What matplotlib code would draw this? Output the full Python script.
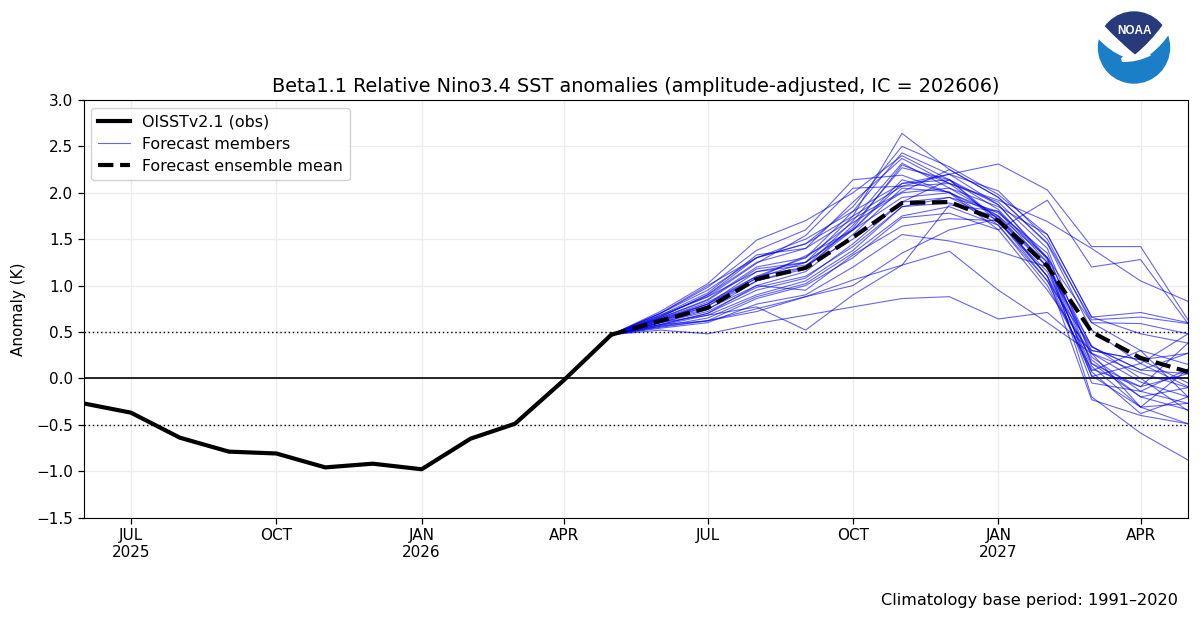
import matplotlib
matplotlib.use("Agg")
import matplotlib.pyplot as plt
import pandas as pd
from matplotlib.patches import Circle, PathPatch
from matplotlib.path import Path

# ---------- data ----------
obs_months = pd.date_range("2025-06-01", "2026-05-01", freq="MS")
obs_values = [-0.27, -0.37, -0.64, -0.79, -0.81, -0.96, -0.92, -0.98, -0.65, -0.49, -0.02, 0.47]

fc_months = pd.date_range("2026-05-01", "2027-05-01", freq="MS")
fc_start = 0.47
ens_mean = [0.47, 0.62, 0.76, 1.07, 1.19, 1.52, 1.89, 1.90, 1.70, 1.21, 0.50, 0.22, 0.07]

# monthly values Jun 2026 .. May 2027
members = [
    [.68, .88, 1.15, 1.25, 1.75, 2.64, 2.25, 1.95, 1.45, .52, .16, -.09],
    [.70, .95, 1.30, 1.45, 1.85, 2.50, 2.28, 1.98, 1.55, .66, .48, .38],
    [.65, .85, 1.20, 1.30, 1.80, 2.43, 2.20, 1.87, 1.30, .34, .09, .05],
    [.72, 1.02, 1.49, 1.70, 2.00, 2.40, 2.14, 1.82, 1.25, .27, -.04, -.20],
    [.66, .90, 1.25, 1.40, 1.90, 2.37, 2.10, 1.90, 1.40, .23, -.14, -.27],
    [.64, .82, 1.10, 1.20, 1.70, 2.32, 2.05, 1.75, 1.20, .30, .20, .27],
    [.60, .78, 1.05, 1.18, 1.65, 2.27, 2.14, 1.71, 1.10, .20, -.20, -.34],
    [.70, .98, 1.38, 1.60, 2.14, 2.19, 2.00, 1.78, 1.35, .16, -.09, .05],
    [.63, .80, 1.08, 1.25, 1.60, 2.10, 2.14, 1.68, 1.15, .13, -.31, -.49],
    [.67, .88, 1.24, 1.54, 2.05, 2.07, 2.20, 2.02, 1.50, .60, .30, .15],
    [.62, .75, 1.00, 1.15, 1.55, 2.05, 2.01, 1.65, 1.05, .07, -.38, -.20],
    [.68, .92, 1.33, 1.40, 1.72, 2.01, 2.25, 1.95, 1.46, .63, .66, .59],
    [.58, .70, .95, 1.08, 1.45, 1.90, 2.14, 1.87, 1.28, .02, .16, .48],
    [.60, .72, .98, 1.10, 1.42, 1.85, 1.95, 1.80, 1.30, -.20, -.59, -.88],
    [.57, .68, .90, 1.05, 1.38, 1.85, 1.89, 1.74, 1.10, -.23, -.40, -.49],
    [.56, .65, .88, 1.02, 1.35, 1.75, 1.85, 1.65, 1.00, .10, -.09, .38],
    [.55, .62, .86, 1.00, 1.30, 1.73, 1.78, 1.60, .95, .27, -.31, -.27],
    [.58, .70, 1.00, .95, 1.33, 1.64, 1.72, 1.70, 1.05, .34, .09, .27],
    [.54, .60, .80, .90, 1.20, 1.55, 1.48, 1.37, 1.20, .35, .00, -.35],
    [.56, .62, .75, .88, 1.06, 1.22, 1.37, .95, .60, .27, .06, -.10],
    [.52, .48, .59, .68, .77, .86, .88, .64, .71, .30, .20, -.05],
    [.60, .68, .77, .52, .90, 1.22, 1.87, 1.80, 1.20, -.05, -.14, .10],
    [.58, .62, .72, .88, 1.00, 1.35, 1.60, 1.72, 1.25, .16, -.20, -.10],
    [.70, 1.00, 1.30, 1.50, 1.80, 2.10, 2.20, 2.31, 2.03, 1.42, 1.42, .63],
    [.66, .90, 1.30, 1.45, 1.75, 2.07, 2.10, 1.92, 1.69, 1.40, 1.05, .83],
    [.62, .78, 1.08, 1.32, 1.60, 1.95, 2.00, 1.60, 1.92, 1.20, 1.28, .59],
    [.64, .80, 1.10, 1.30, 1.68, 2.00, 2.05, 1.85, 1.55, .66, .71, .60],
    [.60, .74, 1.05, 1.20, 1.60, 2.14, 2.00, 1.75, 1.30, .60, .59, .48],
    [.62, .80, 1.15, 1.22, 1.50, 1.90, 1.95, 1.70, 1.10, .03, -.31, .10],
    [.65, .84, 1.18, 1.25, 1.62, 2.30, 2.10, 1.72, 1.20, .08, .30, -.20],
]

tick_dates = pd.to_datetime(["2025-07-01", "2025-10-01", "2026-01-01", "2026-04-01",
                             "2026-07-01", "2026-10-01", "2027-01-01", "2027-04-01"])
tick_labels = ["JUL\n2025", "OCT", "JAN\n2026", "APR", "JUL", "OCT", "JAN\n2027", "APR"]
y_ticks = [-1.5, -1.0, -0.5, 0.0, 0.5, 1.0, 1.5, 2.0, 2.5, 3.0]

# ---------- figure ----------
W, H = 1200, 620
fig = plt.figure(figsize=(W / 100, H / 100), dpi=100)
ax = fig.add_axes([83.5 / W, 1 - 517.5 / H, (1188 - 83.5) / W, 417.5 / H])

ax.grid(True, color="#ececec", lw=1.0, zorder=0)
ax.set_axisbelow(True)
ax.axhline(0, color="black", lw=1.2, zorder=2)
ax.axhline(0.5, color="black", lw=1.0, ls=(0, (1, 2)), zorder=2)
ax.axhline(-0.5, color="black", lw=1.0, ls=(0, (1, 2)), zorder=2)

for i, m in enumerate(members):
    ax.plot(fc_months, [fc_start] + m, color="#0000e6", lw=0.8, alpha=0.6, zorder=3,
            label="Forecast members" if i == 0 else None)
ax.plot(obs_months, obs_values, color="black", lw=3, zorder=5, label="OISSTv2.1 (obs)")
ax.plot(fc_months, ens_mean, color="black", lw=3, ls="--", zorder=6,
        label="Forecast ensemble mean")

ax.set_xlim(pd.Timestamp("2025-06-01"), pd.Timestamp("2027-05-01"))
ax.set_ylim(-1.5, 3.0)
ax.set_xticks(tick_dates)
ax.set_xticklabels(tick_labels)
ax.set_yticks(y_ticks)
ax.tick_params(labelsize=11, length=4, width=0.9)
ax.set_ylabel("Anomaly (K)", fontsize=11, labelpad=7)
ax.set_title("Beta1.1 Relative Nino3.4 SST anomalies (amplitude-adjusted, IC = 202606)",
             fontsize=13.85, pad=6)

handles, labels = ax.get_legend_handles_labels()
order = [labels.index(s) for s in ["OISSTv2.1 (obs)", "Forecast members", "Forecast ensemble mean"]]
ax.legend([handles[i] for i in order], [labels[i] for i in order], loc="upper left",
          fontsize=11.45, frameon=True, framealpha=0.85, labelspacing=0.46)

fig.text(1178 / W, 1 - 600 / H, "Climatology base period: 1991–2020",
         ha="right", va="center", fontsize=11.6)

# ---------- NOAA logo ----------
logo = fig.add_axes([1094 / W, 1 - 87.5 / H, 80 / W, 80 / H])
logo.set_xlim(-40, 40)
logo.set_ylim(-40, 40)
logo.axis("off")
C3 = Path.CURVE3
disc = Circle((0, 0), 36.2, fc="#1a7fc6", ec="none")
logo.add_patch(disc)
gap = PathPatch(Path([(-40, 40), (-40, 7), (-36, 9), (-24, -4), (-11, -9), (-13, -11), (-12, -14.5), (3, -15),
                      (17, -8), (16, -7), (16, -7), (28, 2), (37, 16), (40, 40), (-40, 40)],
                     [1, 2, 2, C3, C3, 2, 2, C3, C3, 2, 2, C3, C3, 2, 2]), fc="white", ec="none")
logo.add_patch(gap)
dark = PathPatch(Path([(-29, 21), (-14, 5), (1, -7), (16, 5), (29, 23), (29, 40), (-29, 40), (-29, 21)],
                      [1, C3, C3, C3, C3, 2, 2, 2]), fc="#263a7c", ec="none")
logo.add_patch(dark)
dark.set_clip_path(Circle((0, 0), 36.2, transform=logo.transData))
logo.text(0.5, 17, "NOAA", color="white", fontsize=8.5, fontweight="bold", ha="center", va="center",
          family="Liberation Sans")

fig.savefig("out.png", dpi=100)
